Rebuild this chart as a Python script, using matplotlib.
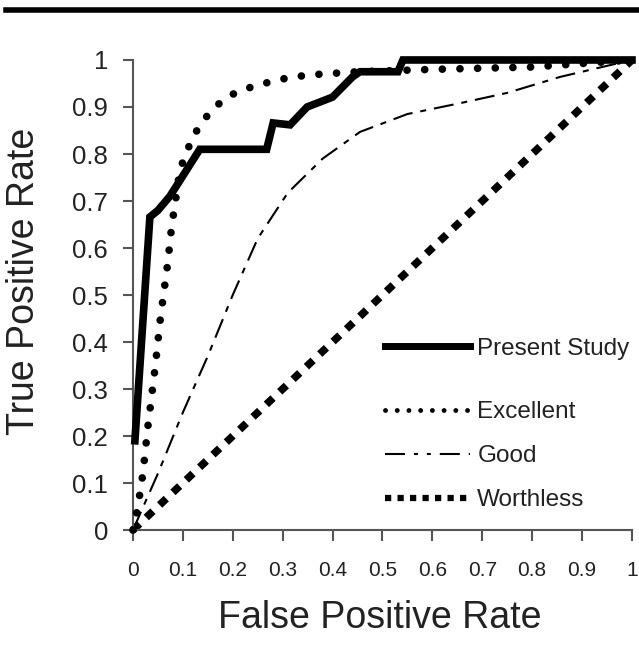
import matplotlib
matplotlib.use('Agg')
import matplotlib.pyplot as plt
from matplotlib.lines import Line2D

plt.rcParams['font.family'] = ['Liberation Sans', 'DejaVu Sans']

# Present Study ROC
ps_fpr = [0.004, 0.034, 0.05, 0.074, 0.134, 0.268, 0.281, 0.315, 0.349, 0.40, 0.44, 0.455, 0.531, 0.541, 1.0]
ps_tpr = [0.19, 0.666, 0.68, 0.71, 0.81, 0.81, 0.866, 0.862, 0.90, 0.921, 0.964, 0.975, 0.975, 1.0, 1.0]

# Excellent reference curve
ex_fpr = [0, 0.01, 0.02, 0.03, 0.045, 0.055, 0.065, 0.07, 0.074, 0.078, 0.084, 0.094, 0.106,
          0.12, 0.14, 0.164, 0.195, 0.23, 0.29, 0.35, 0.45, 0.6, 0.8, 1.0]
ex_tpr = [0, 0.05, 0.12, 0.22, 0.35, 0.45, 0.53, 0.57, 0.61, 0.65, 0.69, 0.766, 0.80,
          0.836, 0.87, 0.90, 0.925, 0.94, 0.958, 0.968, 0.975, 0.98, 0.985, 1.0]

# Good reference curve
gd_fpr = [0, 0.05, 0.1, 0.15, 0.2, 0.25, 0.31, 0.38, 0.455, 0.55, 0.655, 0.75, 0.856, 1.0]
gd_tpr = [0, 0.12, 0.25, 0.37, 0.5, 0.62, 0.717, 0.79, 0.847, 0.885, 0.908, 0.93, 0.964, 1.0]

# Worthless (chance) line
wl_fpr = [0, 1]
wl_tpr = [0, 1]

ticks = [0, 0.1, 0.2, 0.3, 0.4, 0.5, 0.6, 0.7, 0.8, 0.9, 1]
tick_labels = ['0', '0.1', '0.2', '0.3', '0.4', '0.5', '0.6', '0.7', '0.8', '0.9', '1']
labels = ['Present Study', 'Excellent', 'Good', 'Worthless']

fig = plt.figure(figsize=(6.39, 6.52), dpi=100)
ax = fig.add_axes([0.208, 0.187, 0.781, 0.721])

txt = '#222222'

ax.plot(ps_fpr, ps_tpr, color='black', lw=5.5, solid_joinstyle='miter', clip_on=False, zorder=4)
ax.plot(ex_fpr, ex_tpr, color='black', lw=5.5, linestyle=(0, (0.01, 2.3)),
        dash_capstyle='round', clip_on=False, zorder=3)
ax.plot(gd_fpr, gd_tpr, color='black', lw=1.5, linestyle=(0, (9.6, 3.8, 2.9, 3.8)),
        clip_on=False, zorder=2)
ax.plot(wl_fpr, wl_tpr, color='black', lw=5.5, linestyle=(0, (1.2, 1.2)),
        dash_capstyle='butt', clip_on=False, zorder=2)

ax.set_xlim(0, 1)
ax.set_ylim(0, 1)
ax.set_xticks(ticks)
ax.set_xticklabels(tick_labels)
ax.set_yticks(ticks)
ax.set_yticklabels(tick_labels)
ax.tick_params(axis='x', labelsize=15, colors='#555555', labelcolor=txt, length=8, width=1.5, pad=14)
ax.tick_params(axis='y', labelsize=18.5, colors='#555555', labelcolor=txt, length=7, width=1.5, pad=11)

for s in ['top', 'right']:
    ax.spines[s].set_visible(False)
for s in ['left', 'bottom']:
    ax.spines[s].set_color('#555555')
    ax.spines[s].set_linewidth(1.5)

ax.set_xlabel('False Positive Rate', fontsize=27, color=txt)
ax.set_ylabel('True Positive Rate', fontsize=27, color=txt)
ax.xaxis.set_label_coords(0.495, -0.148)
ax.yaxis.set_label_coords(-0.182, 0.528)

# legend handles are drawn a bit finer than the curves
h_ps = Line2D([], [], color='black', lw=5)
h_ex = Line2D([], [], color='black', lw=3.5, linestyle=(0, (0.01, 2.4)), dash_capstyle='round')
h_gd = Line2D([], [], color='black', lw=1.5, linestyle=(0, (9.6, 4.3, 1.9, 4.3, 1.9, 4.3)))
h_wl = Line2D([], [], color='black', lw=4.5, linestyle=(0, (1, 1)), dash_capstyle='butt')

# first entry set apart a little more than the rest
leg1 = ax.legend([h_ps], labels[:1], loc='upper left', bbox_to_anchor=(0.505, 0.409),
                 frameon=False, fontsize=17.5, handlelength=3.5, handletextpad=0.3,
                 borderpad=0, borderaxespad=0, labelcolor=txt)
ax.add_artist(leg1)
ax.legend([h_ex, h_gd, h_wl], labels[1:], loc='upper left',
          bbox_to_anchor=(0.505, 0.274), frameon=False, fontsize=17.5, handlelength=3.5,
          handletextpad=0.3, labelspacing=0.9, borderpad=0, borderaxespad=0, labelcolor=txt)

# thick rule across the top of the figure
fig.add_artist(Line2D([0.01, 1.0], [0.984, 0.984], transform=fig.transFigure, color='black', lw=4))

fig.savefig('out.png', dpi=100)
